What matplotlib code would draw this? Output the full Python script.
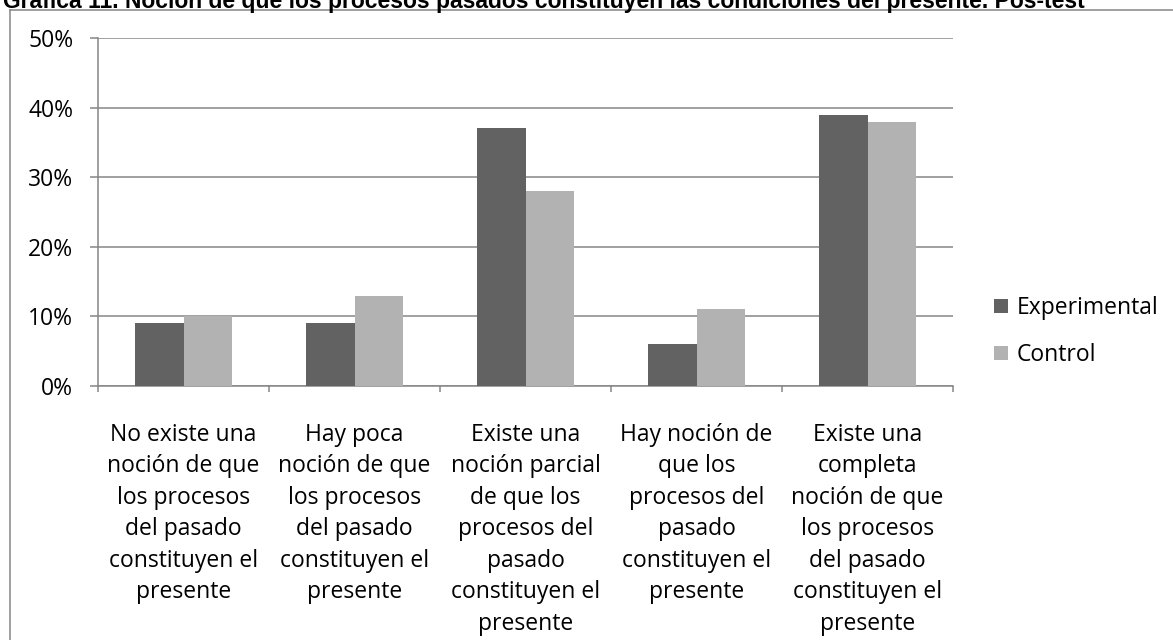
import matplotlib
matplotlib.use("Agg")
import matplotlib.pyplot as plt
import numpy as np
from matplotlib.ticker import FuncFormatter

# data
categorias = [
    "No existe una\nnoción de que\nlos procesos\ndel pasado\nconstituyen el\npresente",
    "Hay poca\nnoción de que\nlos procesos\ndel pasado\nconstituyen el\npresente",
    "Existe una\nnoción parcial\nde que los\nprocesos del\npasado\nconstituyen el\npresente",
    "Hay noción de\nque los\nprocesos del\npasado\nconstituyen el\npresente",
    "Existe una\ncompleta\nnoción de que\nlos procesos\ndel pasado\nconstituyen el\npresente",
]
experimental = [0.09, 0.09, 0.37, 0.06, 0.39]
control = [0.10, 0.13, 0.28, 0.11, 0.38]
series = ["Experimental", "Control"]
titulo = "Gráfica 11. Noción de que los procesos pasados constituyen las condiciones del presente. Pos-test"

plt.rcParams['font.family'] = ['Open Sans', 'DejaVu Sans']
fs = 16.5
gris = '#868686'

fig = plt.figure(figsize=(11.73, 6.4), dpi=100)
ax = fig.add_axes([98 / 1173, 1 - 386 / 640, (953 - 98) / 1173, (386 - 38) / 640])

x = np.arange(len(categorias))
w = 0.285
ax.bar(x - w / 2, experimental, w, color='#626262', label=series[0], zorder=3)
ax.bar(x + w / 2, control, w, color='#b2b2b2', label=series[1], zorder=3)

ax.set_xlim(-0.5, len(categorias) - 0.5)
ax.set_ylim(0, 0.5)
ax.set_yticks(np.arange(0, 0.51, 0.1))
ax.yaxis.set_major_formatter(FuncFormatter(lambda v, p: f"{v * 100:.0f}%"))
ax.grid(axis='y', color=gris, linewidth=1.1, zorder=0)

# category labels centred, ticks on the category borders
ax.set_xticks(x)
ax.set_xticklabels(categorias, fontsize=fs, linespacing=1.415)
ax.tick_params(axis='x', length=0, pad=26.5)
ax.set_xticks(np.arange(-0.5, len(categorias)), minor=True)
ax.tick_params(axis='x', which='minor', length=4.3, color=gris, width=1.1)
ax.tick_params(axis='y', length=5.8, color=gris, width=1.1, labelsize=fs, pad=12)

for s in ['top', 'right']:
    ax.spines[s].set_visible(False)
for s in ['left', 'bottom']:
    ax.spines[s].set_color(gris)
    ax.spines[s].set_linewidth(1.1)

ax.legend(loc='center left', bbox_to_anchor=((994 - 98) / 855, 0.156), frameon=False,
          fontsize=fs, handlelength=0.6, handleheight=0.6, handletextpad=0.4,
          labelspacing=1.0, borderpad=0, borderaxespad=0)

# outer chart border (clipped on right and bottom)
fig.add_artist(plt.Line2D([10 / 1173, 10 / 1173], [0, 1 - 10 / 640], color=gris, linewidth=1.1))
fig.add_artist(plt.Line2D([10 / 1173, 1], [1 - 10 / 640, 1 - 10 / 640], color=gris, linewidth=1.1))

fig.text(1085 / 1173, 1 - 8 / 640, titulo, ha='right', va='baseline',
         fontsize=16.5, fontweight='bold', family='Liberation Sans')

fig.savefig("out.png", dpi=100)
